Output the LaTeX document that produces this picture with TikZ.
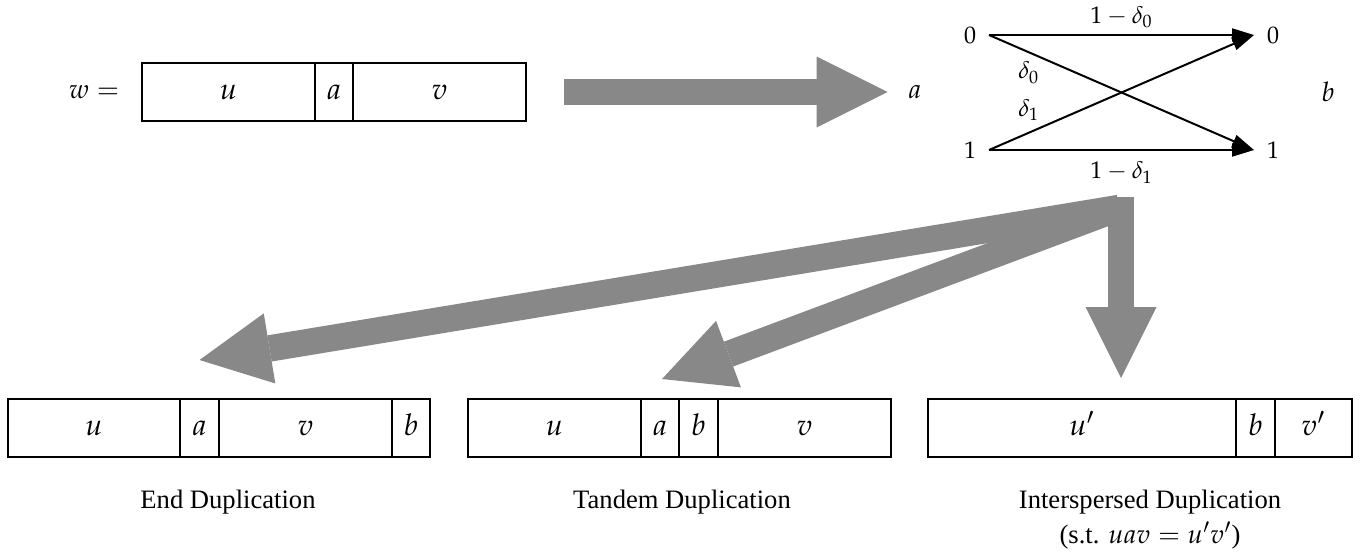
\documentclass[tikz,border=0pt]{standalone}
\usepackage{mathpazo}
\usepackage[no-math]{fontspec}
\setmainfont{Liberation Serif}
\usetikzlibrary{arrows.meta}
\usetikzlibrary{positioning}
\definecolor{fatgray}{HTML}{888888}
\tikzset{l/.style={font=\fontsize{15}{15}\selectfont}}
\tikzset{n/.style={font=\fontsize{13.5}{13.5}\selectfont}}
\tikzset{m/.style={font=\fontsize{12}{12}\selectfont}}
\tikzset{dup/.style={font=\fontsize{13.3}{16}\selectfont}}
\tikzset{cell/.style={l, draw, outer sep=0pt, inner sep=0pt, minimum height=29pt, text height=10.5pt, text depth=3pt}}
\tikzset{bit/.style={m, inner sep=6pt}}
\tikzset{fat/.style={draw=fatgray, line width=13.25pt, -{Triangle[length=35.5pt,width=35.5pt,line width=0pt]}}}

\begin{document}
\begin{tikzpicture}[x=0.5pt, y=-0.5pt, line width=1pt, >={Triangle[length=11pt,width=6.5pt]}]
          \useasboundingbox (0,0) rectangle (1369,558);
          % the word w = u a v
          \node[cell, minimum width=86.5pt, anchor=west] (wu) at (142,92) {$u$};
          \node[cell, minimum width=19pt, right=0pt of wu] (wa) {$a$};
          \node[cell, minimum width=86.5pt, right=0pt of wa] (wv) {$v$};
          \node[n, left=7.5pt of wu] (weq) {$w =$};
          % the channel
          \node[n] (ina) at (915,92) {$a$};
          \node[n] (outb) at (1328,92) {$b$};
          \node[bit] (l0) at (970,35) {$0$};
          \node[bit] (l1) at (970,150) {$1$};
          \node[bit] (r0) at (1273,35) {$0$};
          \node[bit] (r1) at (1273,150) {$1$};
          \draw[->] (l0.east) -- node[m, above] {$1-\delta_0$} (r0.west);
          \draw[->] (l1.east) -- node[m, below=2pt] {$1-\delta_1$} (r1.west);
          \draw[->] (l0.east) -- node[m, pos=0.15, below=1pt] {$\delta_0$} (r1.west);
          \draw[->] (l1.east) -- node[m, pos=0.15, above=2pt] {$\delta_1$} (r0.west);
          \draw[fat] ([xshift=19pt]wv.east) -- ([xshift=-6.6pt]ina.west);
          % end duplication
          \node[cell, minimum width=86pt, anchor=west] (eu) at (8,428) {$u$};
          \node[cell, minimum width=19.5pt, right=0pt of eu] (ea) {$a$};
          \node[cell, minimum width=86.5pt, right=0pt of ea] (ev) {$v$};
          \node[cell, minimum width=19pt, right=0pt of ev] (eb) {$b$};
          % tandem duplication
          \node[cell, minimum width=86.5pt, anchor=west] (tu) at (468,428) {$u$};
          \node[cell, minimum width=19pt, right=0pt of tu] (ta) {$a$};
          \node[cell, minimum width=19.5pt, right=0pt of ta] (tb) {$b$};
          \node[cell, minimum width=86.5pt, right=0pt of tb] (tv) {$v$};
          % interspersed duplication
          \node[cell, minimum width=154pt, anchor=west] (iu) at (928,428) {$u'$};
          \node[cell, minimum width=19.5pt, right=0pt of iu] (ib) {$b$};
          \node[cell, minimum width=38.5pt, right=0pt of ib] (iv) {$v'$};
          \node[dup, anchor=base] (ecap) at (228,508) {End Duplication};
          \node[dup, anchor=base] (tcap) at (682,508) {Tandem Duplication};
          \node[dup, anchor=base] (icap) at (1150,508) {Interspersed Duplication};
          \node[dup, anchor=base] (icond) at (1150,543) {(s.t. $uav = u'v'$)};
          % the three fat arrows
          \coordinate (fork) at (1119,208);
          \coordinate (drop) at (1121,197);
          \draw[fat] (fork) -- ([yshift=19.5pt]ea.north);
          \draw[fat] (fork) -- ([xshift=1pt, yshift=10pt]ta.north);
          \draw[fat] (drop) -- ([xshift=19.5pt, yshift=10.5pt]iu.north);
        \end{tikzpicture}
\end{document}
